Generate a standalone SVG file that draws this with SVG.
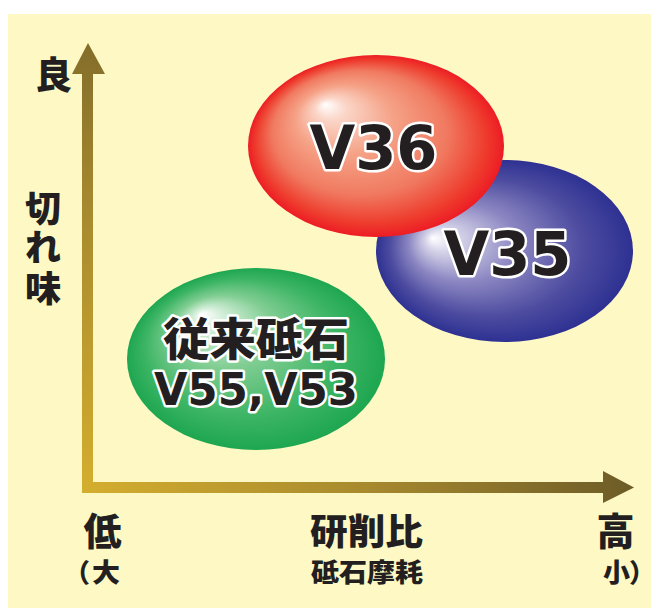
<svg xmlns="http://www.w3.org/2000/svg" width="651" height="608" viewBox="0 0 651 608">
<style>
.cjk{font-family:"Noto Sans CJK JP","Noto Sans CJK SC",sans-serif;font-weight:900;fill:#231f20}
.lbl{font-family:"DejaVu Sans","Noto Sans CJK JP",sans-serif;font-weight:bold;fill:#231f20;stroke:#ffffff;stroke-width:5;stroke-linejoin:round;paint-order:stroke;text-anchor:middle}
.lblj{font-family:"Noto Sans CJK JP",sans-serif;font-weight:900;fill:#231f20;stroke:#ffffff;stroke-width:5;stroke-linejoin:round;paint-order:stroke;text-anchor:middle}
</style>
<defs>
<radialGradient id="gAxis" gradientUnits="userSpaceOnUse" cx="82" cy="493" r="560">
<stop offset="0" stop-color="#d4ae2e"/>
<stop offset="0.5" stop-color="#a88a2e"/>
<stop offset="1" stop-color="#6b5a27"/>
</radialGradient>
<radialGradient id="gRed" cx="0.5" cy="0.5" r="0.5" fx="0.3" fy="0.27">
<stop offset="0" stop-color="#ffffff"/>
<stop offset="0.12" stop-color="#fbd6c8"/>
<stop offset="0.38" stop-color="#f5a287"/>
<stop offset="0.68" stop-color="#f07a60"/>
<stop offset="0.9" stop-color="#ee3b2d"/>
<stop offset="1" stop-color="#ed1c24"/>
</radialGradient>
<radialGradient id="gBlue" cx="0.5" cy="0.5" r="0.5" fx="0.22" fy="0.43">
<stop offset="0" stop-color="#ffffff"/>
<stop offset="0.12" stop-color="#d8d6ea"/>
<stop offset="0.42" stop-color="#8c87c2"/>
<stop offset="0.75" stop-color="#4d4ca0"/>
<stop offset="1" stop-color="#2e3192"/>
</radialGradient>
<radialGradient id="gGreen" cx="0.5" cy="0.5" r="0.5" fx="0.29" fy="0.25">
<stop offset="0" stop-color="#ffffff"/>
<stop offset="0.12" stop-color="#d2eed8"/>
<stop offset="0.4" stop-color="#80cd92"/>
<stop offset="0.75" stop-color="#3db565"/>
<stop offset="1" stop-color="#1ea650"/>
</radialGradient>
</defs>
<rect x="8" y="14" width="643" height="594" fill="#fef9c4"/>
<g id="connectors">
<path d="M72,74 L88,43 L105,74 L93,74 L93,482 L603,482 L603,471 L634,487.5 L603,503 L603,493 L82,493 L82,74 Z" fill="url(#gAxis)"/>
</g>
<g id="axis-labels">
<text class="cjk" x="53.5" y="89" font-size="37" text-anchor="middle">良</text>
<text class="cjk" font-size="36" text-anchor="middle"><tspan x="43" y="222">切</tspan><tspan x="43" y="261">れ</tspan><tspan x="43" y="302">味</tspan></text>
<text class="cjk" x="102.5" y="545" font-size="38" text-anchor="middle">低</text>
<text class="cjk" x="310" y="545" font-size="36" textLength="113" lengthAdjust="spacingAndGlyphs">研削比</text>
<text class="cjk" x="615.5" y="545" font-size="38" text-anchor="middle">高</text>
<text class="cjk" font-size="26"><tspan x="64" y="582">（</tspan><tspan x="92" y="582" textLength="28" lengthAdjust="spacingAndGlyphs">大</tspan></text>
<text class="cjk" x="311" y="582" font-size="26" textLength="112" lengthAdjust="spacingAndGlyphs">砥石摩耗</text>
<text class="cjk" font-size="26"><tspan x="603" y="582" textLength="27" lengthAdjust="spacingAndGlyphs">小</tspan><tspan x="629" y="582">）</tspan></text>
</g>
<g id="node-conventional">
<ellipse cx="256" cy="359" rx="129" ry="91" fill="url(#gGreen)"/>
<text class="lblj" x="256" y="356" font-size="45" textLength="186" lengthAdjust="spacingAndGlyphs">従来砥石</text>
<text class="lbl" x="256" y="405" font-size="45" textLength="204" lengthAdjust="spacingAndGlyphs">V55,V53</text>
</g>
<g id="node-v35">
<ellipse cx="504.5" cy="251" rx="128.5" ry="91" fill="url(#gBlue)"/>
<text class="lbl" x="507.5" y="275" font-size="60" textLength="128" lengthAdjust="spacingAndGlyphs">V35</text>
</g>
<g id="node-v36">
<ellipse cx="376" cy="146" rx="128" ry="91" fill="url(#gRed)"/>
<text class="lbl" x="373.5" y="169" font-size="60" textLength="128" lengthAdjust="spacingAndGlyphs">V36</text>
</g>
</svg>
